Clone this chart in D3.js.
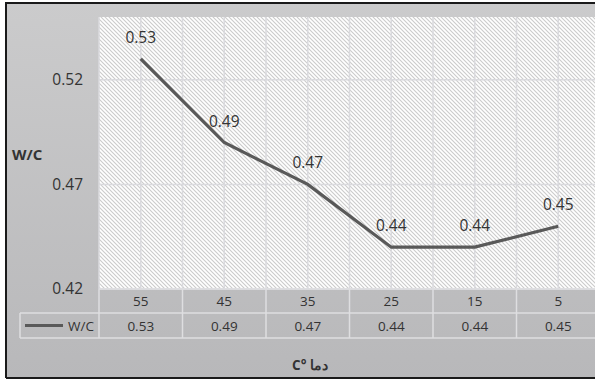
<!DOCTYPE html>
<html>
<head>
<meta charset="utf-8">
<script src="https://cdn.jsdelivr.net/npm/d3@7"></script>
<style>
  html, body { margin: 0; padding: 0; background: #ffffff; }
  svg { display: block; }
  text { font-family: "Open Sans", Lato, sans-serif; fill: #333333; }
</style>
</head>
<body>
<svg id="chart" width="595" height="380"></svg>
<script>
// Water/cement ratio against temperature
const categories = ["55", "45", "35", "25", "15", "5"];
const values = [0.53, 0.49, 0.47, 0.44, 0.44, 0.45];
const valueLabels = ["0.53", "0.49", "0.47", "0.44", "0.44", "0.45"];
const yTicks = [0.42, 0.47, 0.52];
const seriesName = "W/C";
const yTitle = "W/C";
const xTitle = "C° دما";

const svg = d3.select("#chart");
const W = 595, H = 380;
const FONT = "\"Open Sans\", Lato, sans-serif";

const plot = { left: 99, top: 17, right: 600, bottom: 289 };
const row1Bottom = 313, row2Bottom = 338, legendLeft = 20;

const defs = svg.append("defs");
const grad = defs.append("linearGradient").attr("id", "bg").attr("x1", 0).attr("y1", 0).attr("x2", 0).attr("y2", 1);
grad.append("stop").attr("offset", "0%").attr("stop-color", "#cbcbcc");
grad.append("stop").attr("offset", "100%").attr("stop-color", "#b8b8ba");

const hatch = defs.append("pattern").attr("id", "hatch")
  .attr("patternUnits", "userSpaceOnUse").attr("width", 4).attr("height", 4);
hatch.append("rect").attr("width", 4).attr("height", 4).attr("fill", "#ffffff");
hatch.append("path").attr("d", "M-1,-1 L5,5 M-1,3 L1,5 M3,-1 L5,1")
  .attr("stroke", "#cbcbcb").attr("stroke-width", 1.1);

// chart background and frame
svg.append("rect").attr("x", 6).attr("y", 3).attr("width", W).attr("height", 375)
  .attr("fill", "url(#bg)");
svg.append("path").attr("d", `M6,${H - 2} L6,3 L${W + 2},3`)
  .attr("fill", "none").attr("stroke", "#1a1a1a").attr("stroke-width", 2);
svg.append("line").attr("x1", 6).attr("x2", W).attr("y1", 378).attr("y2", 378)
  .attr("stroke", "#1a1a1a").attr("stroke-width", 2);

const x = d3.scaleBand().domain(categories).range([plot.left, plot.right]);
const y = d3.scaleLinear().domain([0.42, 0.55]).range([plot.bottom, plot.top]);

// plot area
svg.append("rect").attr("x", plot.left).attr("y", plot.top)
  .attr("width", plot.right - plot.left).attr("height", plot.bottom - plot.top)
  .attr("fill", "url(#hatch)");

// vertical gridlines at band edges and centres
const gridX = [];
categories.forEach(c => { gridX.push(x(c)); gridX.push(x(c) + x.bandwidth() / 2); });
svg.append("g").selectAll("line").data(gridX).join("line")
  .attr("x1", d => d).attr("x2", d => d)
  .attr("y1", plot.top).attr("y2", plot.bottom)
  .attr("stroke", "#dadade").attr("stroke-width", 1.5);

// horizontal gridlines
svg.append("g").selectAll("line").data(yTicks).join("line")
  .attr("x1", plot.left).attr("x2", plot.right)
  .attr("y1", d => y(d)).attr("y2", d => y(d))
  .attr("stroke", "#dadade").attr("stroke-width", 1.5);

// y axis labels
const yAxis = svg.append("g").attr("transform", `translate(${plot.left},0)`)
  .call(d3.axisLeft(y).tickValues(yTicks).tickSize(0).tickPadding(16).tickFormat(d3.format(".2f")));
yAxis.select(".domain").remove();
yAxis.selectAll("text").attr("font-size", 15.5).attr("font-family", FONT).attr("fill", "#333");

svg.append("text").attr("x", 12).attr("y", 160).attr("font-size", 15).attr("font-weight", "bold")
  .text(yTitle);

// data line
const line = d3.line().x((d, i) => x(categories[i]) + x.bandwidth() / 2).y(d => y(d));
svg.append("path").datum(values).attr("d", line)
  .attr("fill", "none").attr("stroke", "#595959").attr("stroke-width", 3.2);

// value labels above points
svg.append("g").selectAll("text").data(values).join("text")
  .attr("x", (d, i) => x(categories[i]) + x.bandwidth() / 2)
  .attr("y", d => y(d) - 16)
  .attr("text-anchor", "middle").attr("font-size", 15.5)
  .text((d, i) => valueLabels[i]);

// data table
const tableStroke = "#dedee0";
const tbl = svg.append("g");
tbl.append("line").attr("x1", plot.left).attr("x2", W).attr("y1", plot.bottom).attr("y2", plot.bottom)
  .attr("stroke", tableStroke).attr("stroke-width", 1.5);
[row1Bottom, row2Bottom].forEach(yy => {
  tbl.append("line").attr("x1", legendLeft).attr("x2", W).attr("y1", yy).attr("y2", yy)
    .attr("stroke", tableStroke).attr("stroke-width", 1.5);
});
tbl.append("line").attr("x1", legendLeft).attr("x2", legendLeft).attr("y1", row1Bottom).attr("y2", row2Bottom)
  .attr("stroke", tableStroke).attr("stroke-width", 1.5);
tbl.selectAll("line.sep").data(categories).join("line").attr("class", "sep")
  .attr("x1", d => x(d)).attr("x2", d => x(d))
  .attr("y1", plot.bottom).attr("y2", row2Bottom)
  .attr("stroke", tableStroke).attr("stroke-width", 1.5);

tbl.selectAll("text.cat").data(categories).join("text").attr("class", "cat")
  .attr("x", d => x(d) + x.bandwidth() / 2).attr("y", (plot.bottom + row1Bottom) / 2 + 5)
  .attr("text-anchor", "middle").attr("font-size", 13.5).text(d => d);
tbl.selectAll("text.val").data(values).join("text").attr("class", "val")
  .attr("x", (d, i) => x(categories[i]) + x.bandwidth() / 2).attr("y", (row1Bottom + row2Bottom) / 2 + 5)
  .attr("text-anchor", "middle").attr("font-size", 13.5).text((d, i) => valueLabels[i]);

// legend key in the table
const ly = (row1Bottom + row2Bottom) / 2;
tbl.append("line").attr("x1", 25).attr("x2", 63).attr("y1", ly).attr("y2", ly)
  .attr("stroke", "#595959").attr("stroke-width", 3.2);
tbl.append("text").attr("x", 94).attr("y", ly + 5).attr("text-anchor", "end")
  .attr("font-size", 13.5).text(seriesName);

// x axis title
svg.append("text").attr("x", 310).attr("y", 370).attr("text-anchor", "middle")
  .attr("font-size", 13.5).attr("font-weight", "bold").text(xTitle);
</script>
</body>
</html>
